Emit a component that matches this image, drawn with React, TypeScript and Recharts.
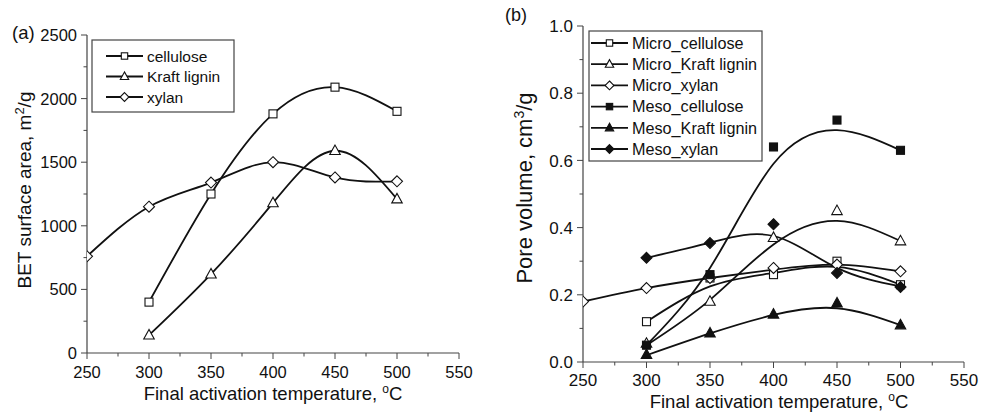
import { ComposedChart, Line, XAxis, YAxis } from 'recharts'

// temperatures (°C)
const temps5 = [300, 350, 400, 450, 500]
const temps6 = [250, 300, 350, 400, 450, 500]

// (a) BET surface area, m2/g
const celluloseBet = [400, 1250, 1880, 2090, 1900]
const kraftBet = [140, 620, 1180, 1590, 1210]
const xylanBet = [760, 1150, 1340, 1500, 1380, 1350]

// (b) pore volume, cm3/g — measured points
const microCellulose = [0.12, 0.25, 0.26, 0.3, 0.23]
const microKraft = [0.055, 0.18, 0.37, 0.45, 0.36]
const microXylan = [0.18, 0.22, 0.25, 0.28, 0.29, 0.27]
const mesoCellulose = [0.05, 0.26, 0.64, 0.72, 0.63]
const mesoKraft = [0.022, 0.086, 0.142, 0.175, 0.11]
const mesoXylan = [0.31, 0.354, 0.41, 0.265, 0.223]

// (b) smoothed curves
const microCelluloseFit = [0.12, 0.225, 0.265, 0.283, 0.23]
const microKraftFit = [0.05, 0.185, 0.35, 0.42, 0.36]
const microXylanFit = [0.18, 0.22, 0.25, 0.275, 0.29, 0.27]
const mesoCelluloseFit = [0.05, 0.28, 0.59, 0.69, 0.63]
const mesoKraftFit = [0.02, 0.085, 0.14, 0.16, 0.11]
const mesoXylanFit = [0.31, 0.355, 0.375, 0.28, 0.225]

const xTicks = [250, 275, 300, 325, 350, 375, 400, 425, 450, 475, 500, 525, 550]
const betTicks = [0, 250, 500, 750, 1000, 1250, 1500, 1750, 2000, 2250, 2500]
const poreTicks = [0, 0.1, 0.2, 0.3, 0.4, 0.5, 0.6, 0.7, 0.8, 0.9, 1.0]

const FONT = '"Liberation Sans", Arial, sans-serif'
const AXIS = '#444'
const INK = '#111'

type Kind = 'square' | 'triangle' | 'diamond'

const toPts = (ts: number[], vs: number[]) => ts.map((t, i) => ({ t, v: vs[i] }))

function Marker({ cx, cy, kind, filled, scale = 1 }: { cx: number; cy: number; kind: Kind; filled: boolean; scale?: number }) {
  const fill = filled ? INK : '#fff'
  const sw = 1.1
  if (kind === 'square') {
    const s = 8 * scale
    return <rect x={cx - s / 2} y={cy - s / 2} width={s} height={s} fill={fill} stroke={INK} strokeWidth={sw} />
  }
  if (kind === 'triangle') {
    const w = 10.5 * scale
    const h = 9.5 * scale
    return (
      <polygon
        points={`${cx},${cy - h * 0.6} ${cx - w / 2},${cy + h * 0.4} ${cx + w / 2},${cy + h * 0.4}`}
        fill={fill}
        stroke={INK}
        strokeWidth={sw}
      />
    )
  }
  const r = 5.5 * scale
  return (
    <polygon
      points={`${cx},${cy - r} ${cx + r},${cy} ${cx},${cy + r} ${cx - r},${cy}`}
      fill={fill}
      stroke={INK}
      strokeWidth={sw}
    />
  )
}

// ticks drawn by hand so minor ticks can be shorter
const bottomTick = (isMajor: (v: number) => boolean, fs: number, dy: number) => (p: any) => {
  const v = p.payload.value
  const major = isMajor(v)
  return (
    <g>
      <line x1={p.x} x2={p.x} y1={p.y} y2={p.y + (major ? 6 : 3.5)} stroke={AXIS} strokeWidth={1} />
      {major && (
        <text x={p.x} y={p.y + dy} textAnchor="middle" fontSize={fs} fontFamily={FONT} fill={INK}>
          {v}
        </text>
      )}
    </g>
  )
}

const leftTick = (isMajor: (v: number) => boolean, fmt: (v: number) => string, fs: number) => (p: any) => {
  const v = p.payload.value
  const major = isMajor(v)
  return (
    <g>
      <line x1={p.x} x2={p.x - (major ? 6 : 3.5)} y1={p.y} y2={p.y} stroke={AXIS} strokeWidth={1} />
      {major && (
        <text x={p.x - 10} y={p.y + fs * 0.36} textAnchor="end" fontSize={fs} fontFamily={FONT} fill={INK}>
          {fmt(v)}
        </text>
      )}
    </g>
  )
}

const topTick = (isMajor: (v: number) => boolean) => (p: any) => (
  <line x1={p.x} x2={p.x} y1={p.y} y2={p.y + (isMajor(p.payload.value) ? 5 : 3)} stroke={AXIS} strokeWidth={1} />
)

const rightTick = (isMajor: (v: number) => boolean) => (p: any) => (
  <line x1={p.x} x2={p.x - (isMajor(p.payload.value) ? 5 : 3)} y1={p.y} y2={p.y} stroke={AXIS} strokeWidth={1} />
)

const xMajor = (v: number) => v % 50 === 0
const betMajor = (v: number) => v % 500 === 0
const poreMajor = (v: number) => Math.round(v * 10) % 2 === 0

type Series = { name: string; ts: number[]; vs: number[]; fit: number[]; kind: Kind; filled: boolean }

const betSeries: Series[] = [
  { name: 'cellulose', ts: temps5, vs: celluloseBet, fit: celluloseBet, kind: 'square', filled: false },
  { name: 'Kraft lignin', ts: temps5, vs: kraftBet, fit: kraftBet, kind: 'triangle', filled: false },
  { name: 'xylan', ts: temps6, vs: xylanBet, fit: xylanBet, kind: 'diamond', filled: false },
]

const poreSeries: Series[] = [
  { name: 'Micro_cellulose', ts: temps5, vs: microCellulose, fit: microCelluloseFit, kind: 'square', filled: false },
  { name: 'Micro_Kraft lignin', ts: temps5, vs: microKraft, fit: microKraftFit, kind: 'triangle', filled: false },
  { name: 'Micro_xylan', ts: temps6, vs: microXylan, fit: microXylanFit, kind: 'diamond', filled: false },
  { name: 'Meso_cellulose', ts: temps5, vs: mesoCellulose, fit: mesoCelluloseFit, kind: 'square', filled: true },
  { name: 'Meso_Kraft lignin', ts: temps5, vs: mesoKraft, fit: mesoKraftFit, kind: 'triangle', filled: true },
  { name: 'Meso_xylan', ts: temps5, vs: mesoXylan, fit: mesoXylanFit, kind: 'diamond', filled: true },
]

function Panel({
  width,
  margin,
  yWidth,
  xHeight,
  yDomain,
  yTicks,
  yMajor,
  yFmt,
  fs,
  tickDy,
  series,
}: {
  width: number
  margin: { top: number; right: number; left: number; bottom: number }
  yWidth: number
  xHeight: number
  yDomain: [number, number]
  yTicks: number[]
  yMajor: (v: number) => boolean
  yFmt: (v: number) => string
  fs: number
  tickDy: number
  series: Series[]
}) {
  return (
    <ComposedChart width={width} height={412} margin={margin}>
      <XAxis
        dataKey="t"
        type="number"
        domain={[250, 550]}
        ticks={xTicks}
        interval={0}
        allowDataOverflow
        height={xHeight}
        tickSize={0}
        tickMargin={0}
        tickLine={false}
        axisLine={{ stroke: AXIS, strokeWidth: 1.2 }}
        tick={bottomTick(xMajor, fs, tickDy)}
      />
      <XAxis
        xAxisId="top"
        orientation="top"
        dataKey="t"
        type="number"
        domain={[250, 550]}
        ticks={xTicks}
        interval={0}
        height={0}
        tickSize={0}
        tickMargin={0}
        tickLine={false}
        axisLine={{ stroke: AXIS, strokeWidth: 1.2 }}
        tick={topTick(xMajor)}
      />
      <YAxis
        type="number"
        domain={yDomain}
        ticks={yTicks}
        interval={0}
        width={yWidth}
        tickSize={0}
        tickMargin={0}
        tickLine={false}
        axisLine={{ stroke: AXIS, strokeWidth: 1.2 }}
        tick={leftTick(yMajor, yFmt, fs)}
      />
      <YAxis
        yAxisId="right"
        orientation="right"
        type="number"
        domain={yDomain}
        ticks={yTicks}
        interval={0}
        width={0}
        tickSize={0}
        tickMargin={0}
        tickLine={false}
        axisLine={{ stroke: AXIS, strokeWidth: 1.2 }}
        tick={rightTick(yMajor)}
      />
      {series.map((s) => (
        <Line
          key={s.name + '-fit'}
          data={toPts(s.ts, s.fit)}
          dataKey="v"
          type="natural"
          stroke={INK}
          strokeWidth={1.8}
          dot={false}
          activeDot={false}
          isAnimationActive={false}
        />
      ))}
      {series.map((s) => (
        <Line
          key={s.name + '-pts'}
          data={toPts(s.ts, s.vs)}
          dataKey="v"
          stroke="none"
          dot={(p: any) => <Marker key={s.name + p.index} cx={p.cx} cy={p.cy} kind={s.kind} filled={s.filled} />}
          activeDot={false}
          isAnimationActive={false}
        />
      ))}
    </ComposedChart>
  )
}

function LegendBox({
  x,
  y,
  w,
  h,
  first,
  step,
  lineX,
  fs,
  series,
}: {
  x: number
  y: number
  w: number
  h: number
  first: number
  step: number
  lineX: number
  fs: number
  series: Series[]
}) {
  return (
    <g>
      <rect x={x} y={y} width={w} height={h} fill="#fff" stroke={AXIS} strokeWidth={1.2} />
      {series.map((s, i) => {
        const cy = first + i * step
        return (
          <g key={s.name}>
            <line x1={lineX} x2={lineX + 37} y1={cy} y2={cy} stroke={INK} strokeWidth={1.8} />
            <Marker cx={lineX + 18.5} cy={cy} kind={s.kind} filled={s.filled} scale={0.8} />
            <text x={lineX + 41} y={cy + fs * 0.36} fontSize={fs} fontFamily={FONT} fill={INK}>
              {s.name}
            </text>
          </g>
        )
      })}
    </g>
  )
}

export default function App() {
  return (
    <div style={{ position: 'absolute', left: 0, top: 0, width: 989, height: 412, background: '#fff', fontFamily: FONT }}>
      <div style={{ position: 'absolute', left: 0, top: 0 }}>
        <Panel
          width={490}
          margin={{ top: 35, right: 31, left: 0, bottom: 0 }}
          yWidth={87}
          xHeight={59}
          yDomain={[0, 2500]}
          yTicks={betTicks}
          yMajor={betMajor}
          yFmt={(v) => String(v)}
          fs={16.5}
          tickDy={25}
          series={betSeries}
        />
      </div>
      <div style={{ position: 'absolute', left: 490, top: 0 }}>
        <Panel
          width={499}
          margin={{ top: 26, right: 25, left: 0, bottom: 0 }}
          yWidth={93}
          xHeight={50}
          yDomain={[0, 1]}
          yTicks={poreTicks}
          yMajor={poreMajor}
          yFmt={(v) => v.toFixed(1)}
          fs={17}
          tickDy={23.5}
          series={poreSeries}
        />
      </div>
      <svg width={989} height={412} style={{ position: 'absolute', left: 0, top: 0, pointerEvents: 'none' }}>
        <g fontFamily={FONT} fill={INK}>
          <text x={12} y={39} fontSize={18.5}>(a)</text>
          <text x={505} y={21} fontSize={18}>(b)</text>
          <text transform="translate(31,190) rotate(-90)" textAnchor="middle" fontSize={19}>
            BET surface area, m<tspan dy={-7} fontSize={13}>2</tspan>
            <tspan dy={7}>/g</tspan>
          </text>
          <text transform="translate(532,188) rotate(-90)" textAnchor="middle" fontSize={22}>
            Pore volume, cm<tspan dy={-8} fontSize={14}>3</tspan>
            <tspan dy={8}>/g</tspan>
          </text>
          <text x={273} y={400} textAnchor="middle" fontSize={18.5}>
            Final activation temperature, <tspan dy={-7} fontSize={12}>o</tspan>
            <tspan dy={7}>C</tspan>
          </text>
          <text x={779} y={407.5} textAnchor="middle" fontSize={18.5}>
            Final activation temperature, <tspan dy={-7} fontSize={12}>o</tspan>
            <tspan dy={7}>C</tspan>
          </text>
        </g>
        <LegendBox x={92} y={40} w={142} h={72} first={56} step={20.5} lineX={106} fs={15.5} series={betSeries} />
        <LegendBox x={589} y={31} w={173} h={130} first={43} step={21.2} lineX={591} fs={16.2} series={poreSeries} />
      </svg>
    </div>
  )
}
